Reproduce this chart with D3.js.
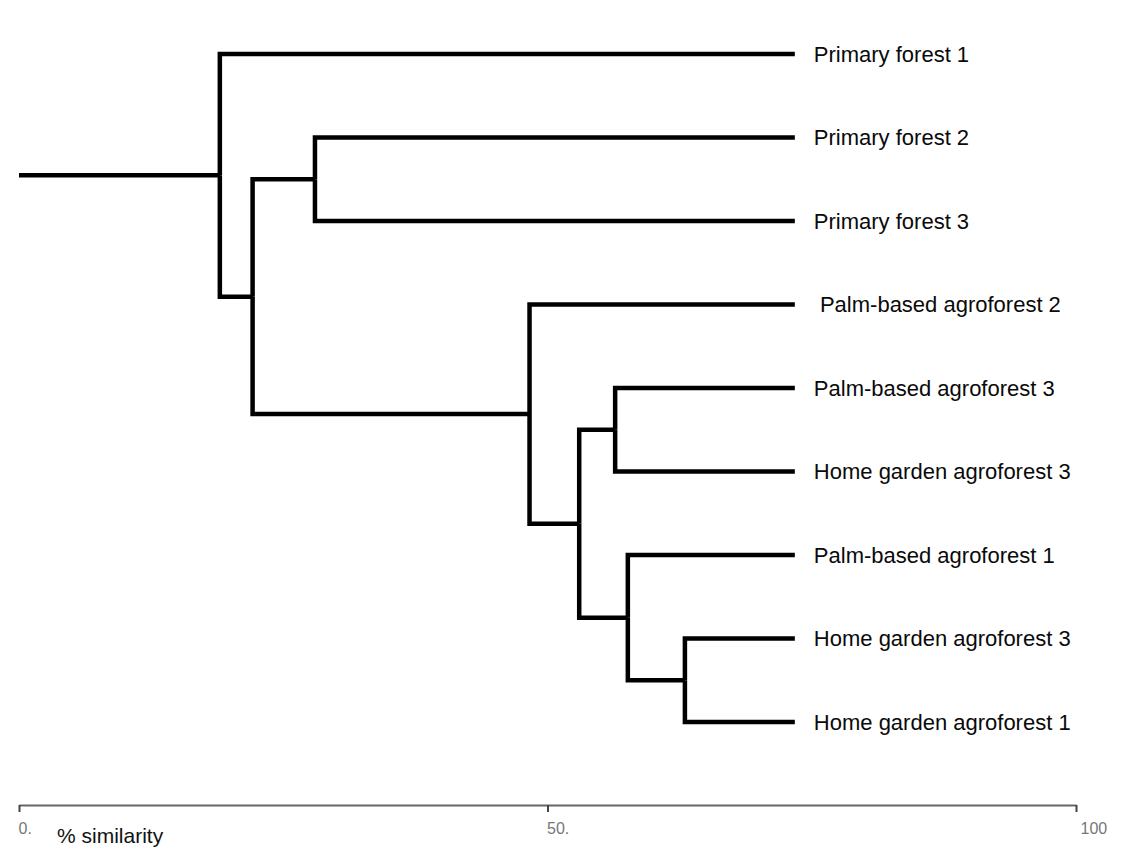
<!DOCTYPE html>
<html lang="en">
<head>
    <meta charset="UTF-8">
    <script src="https://cdn.jsdelivr.net/npm/d3@7"></script>
    <title>Dendrogram - % similarity</title>
    <style>
        body {
            margin: 0;
            background: #fff;
        }

        .branch {
            fill: none;
            stroke: #000;
            stroke-width: 4.5px;
            stroke-linejoin: miter;
        }

        .leaf-label {
            font-family: 'Liberation Sans', Arial, sans-serif;
            font-size: 22px;
            fill: #0a0a0a;
            white-space: pre;
        }

        .axis path {
            stroke: #666;
            stroke-width: 2px;
        }

        .axis line {
            stroke: #444;
            stroke-width: 2px;
        }

        .axis-title {
            font-family: 'Liberation Sans', Arial, sans-serif;
            font-size: 21px;
            fill: #111;
        }
    </style>
</head>
<body>
<div class="chart"></div>

<script>
    // tree structure: node id, parent id, similarity (%) where the node sits
    const nodeIds = ["A", "L1", "B", "C", "L2", "L3", "D", "L4", "E", "F", "L5", "L6", "G", "L7", "H", "L8", "L9"];
    const nodeParents = ["", "A", "A", "B", "C", "C", "B", "D", "D", "E", "F", "F", "E", "G", "G", "H", "H"];
    const nodeSimilarity = [19.0, 73.4, 22.1, 28.0, 73.4, 73.4, 48.3, 73.4, 53.0, 56.4, 73.4, 73.4, 57.6, 73.4, 63.0, 73.4, 73.4];

    const leafIds = ["L1", "L2", "L3", "L4", "L5", "L6", "L7", "L8", "L9"];
    const leafLabels = [
        "Primary forest 1",
        "Primary forest 2",
        "Primary forest 3",
        " Palm-based agroforest 2",
        "Palm-based agroforest 3",
        "Home garden agroforest 3",
        "Palm-based agroforest 1",
        "Home garden agroforest 3",
        "Home garden agroforest 1"
    ];

    const tickValues = [0, 50, 100];
    const tickLabels = ["0.", "50.", "100"];
    const axisTitle = "% similarity";

    const width = 1125;
    const height = 857;

    const svg = d3.select(".chart").append("svg")
        .attr("width", width)
        .attr("height", height);

    const x = d3.scaleLinear().domain([0, 100]).range([19, 1076]);
    const y = d3.scalePoint().domain(leafIds).range([54, 722]);

    const rows = nodeIds.map((id, i) => ({ id: id, parent: nodeParents[i], sim: nodeSimilarity[i] }));
    const root = d3.stratify()
        .id(d => d.id)
        .parentId(d => d.parent || null)(rows);

    // leaves on the point scale, inner nodes halfway between first and last child
    root.eachAfter(n => {
        n.px = x(n.data.sim);
        if (!n.children) {
            n.py = y(n.id);
        } else {
            n.py = (n.children[0].py + n.children[n.children.length - 1].py) / 2;
        }
    });

    const g = svg.append("g");

    // stub from 0 to root
    g.append("path")
        .attr("class", "branch")
        .attr("d", `M${x(0)},${root.py}H${root.px}`);

    g.selectAll(".link")
        .data(root.links())
        .enter()
        .append("path")
        .attr("class", "branch link")
        .attr("d", d => `M${d.source.px},${d.source.py}V${d.target.py}H${d.target.px}`);

    g.selectAll(".leaf-label")
        .data(root.leaves())
        .enter()
        .append("text")
        .attr("class", "leaf-label")
        .attr("x", d => d.px + 19)
        .attr("y", d => d.py)
        .attr("dy", "0.35em")
        .text(d => leafLabels[leafIds.indexOf(d.id)]);

    const axis = svg.append("g")
        .attr("class", "axis")
        .attr("transform", "translate(0,805)")
        .call(d3.axisBottom(x)
            .tickValues(tickValues)
            .tickSizeInner(7)
            .tickSizeOuter(0)
            .tickFormat((d, i) => tickLabels[i]));

    axis.selectAll("text")
        .attr("text-anchor", "start")
        .attr("font-family", "'Liberation Sans', Arial, sans-serif")
        .attr("font-size", 16)
        .attr("fill", "#777")
        .attr("dx", (d, i) => i === 2 ? 4 : -1)
        .attr("y", 18);

    svg.append("text")
        .attr("class", "axis-title")
        .attr("x", 57)
        .attr("y", 843)
        .text(axisTitle);
</script>
</body>
</html>
